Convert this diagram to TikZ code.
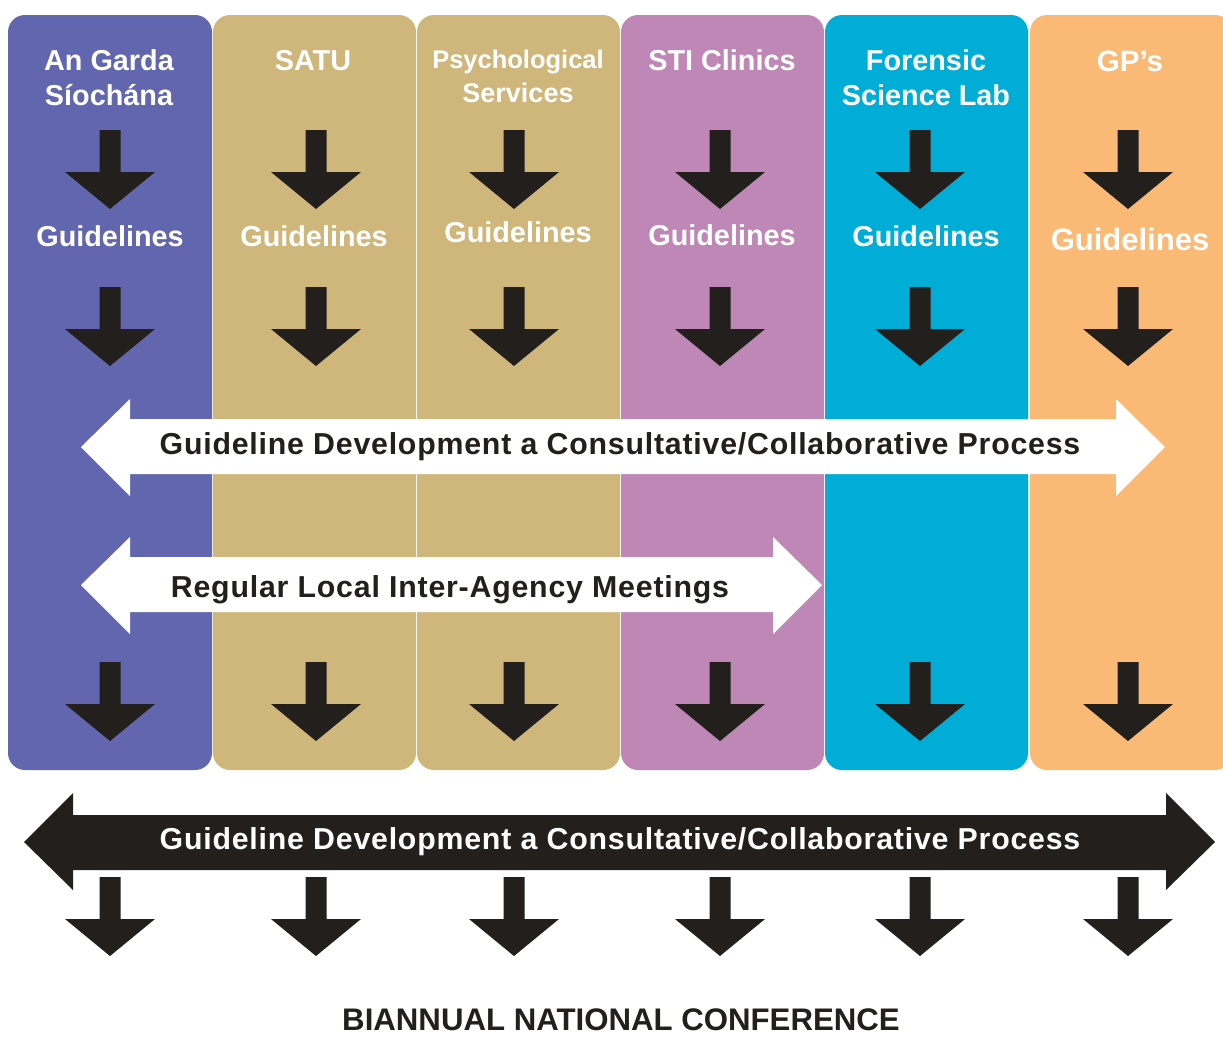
\documentclass[tikz,border=0pt]{standalone}
\usepackage{fontspec}
\setmainfont{Liberation Sans}
\newfontfamily\bandfont{Liberation Sans}[LetterSpace=2.6]
\usepackage{tikz}
\definecolor{gardacol}{HTML}{6166AE}
\definecolor{tancol}{HTML}{CFB67B}
\definecolor{sticol}{HTML}{BE87B5}
\definecolor{forensiccol}{HTML}{00ADD6}
\definecolor{gpcol}{HTML}{FAB975}
\definecolor{arrowdark}{HTML}{221F1C}
\tikzset{downarr/.pic={\fill[arrowdark] (-10.5,0) -- (10.5,0) -- (10.5,42) -- (45,42) -- (0,79) -- (-45,42) -- (-10.5,42) -- cycle;}}

\begin{document}
\begin{tikzpicture}
    [x=1pt, y=-1pt,
 column/.style ={rounded corners=17pt},
 title/.style ={text=white, anchor=base, inner sep=0pt, font=\bfseries\fontsize{28.8}{32}\selectfont},
 guide/.style ={title},
 band/.style ={anchor=base, inner sep=0pt, font=\bandfont\bfseries\fontsize{30.3}{33}\selectfont}]
        \useasboundingbox (0,0) rectangle (1223,1037);
        % the six agency columns
        \fill[gardacol, column] (8,15) rectangle (212,770);
        \fill[tancol, column] (213,15) rectangle (416,770);
        \fill[tancol, column] (417,15) rectangle (620,770);
        \fill[sticol, column] (621,15) rectangle (824,770);
        \fill[forensiccol, column] (825,15) rectangle (1028,770);
        \fill[gpcol, column] (1030,15) rectangle (1232,770);
        % column headings
        \node[title] (garda1) at (109,70) {An Garda};
        \node[title] (garda2) at (109,105) {Síochána};
        \node[title] (satu) at (313,70) {SATU};
        \node[title, font=\bfseries\fontsize{25.5}{30}\selectfont] (psych1) at (518,68) {Psychological};
        \node[title, font=\bfseries\fontsize{27}{30}\selectfont] (psych2) at (518,102) {Services};
        \node[title] (sti) at (722,70) {STI Clinics};
        \node[title] (forensic1) at (926,70) {Forensic};
        \node[title] (forensic2) at (926,105) {Science Lab};
        \node[title, font=\bfseries\fontsize{29.5}{32}\selectfont] (gp) at (1130,71) {GP’s};
        % guidelines
        \node[guide] (guide1) at (110,246) {Guidelines};
        \node[guide] (guide2) at (314,246) {Guidelines};
        \node[guide] (guide3) at (518,242) {Guidelines};
        \node[guide] (guide4) at (722,245) {Guidelines};
        \node[guide] (guide5) at (926,246) {Guidelines};
        \node[guide, font=\bfseries\fontsize{31}{34}\selectfont] (guide6) at (1130,250) {Guidelines};
        % white two-way arrows
        \fill[white] (81,447) -- (130,399) -- (130,419) -- (1116,419) -- (1116,399) -- (1165,447) -- (1116,496) -- (1116,474) -- (130,474) -- (130,496) -- cycle;
        \fill[white] (81,585) -- (130,537) -- (130,557) -- (773,557) -- (773,537) -- (822,585) -- (773,634) -- (773,612) -- (130,612) -- (130,634) -- cycle;
        \node[band, text=arrowdark] (consult) at (620,454) {Guideline Development a Consultative/Collaborative Process};
        \node[band, text=arrowdark] (local) at (450,597) {Regular Local Inter-Agency Meetings};
        % black two-way arrow
        \fill[arrowdark] (24,842) -- (73,793) -- (73,815) -- (1166,815) -- (1166,793) -- (1215,842) -- (1166,890) -- (1166,870) -- (73,870) -- (73,890) -- cycle;
        \node[band, text=white] (national) at (620,849) {Guideline Development a Consultative/Collaborative Process};
        % down arrows
        \foreach \x in {110,316,514,720,920,1128} {
            \foreach \y in {130,287,662,877}
                \pic at (\x,\y) {downarr};
        }
        \node[anchor=base, inner sep=0pt, text=arrowdark, font=\bfseries\fontsize{31.2}{34}\selectfont] (conf) at (621,1030) {BIANNUAL NATIONAL CONFERENCE};
    \end{tikzpicture}
\end{document}
